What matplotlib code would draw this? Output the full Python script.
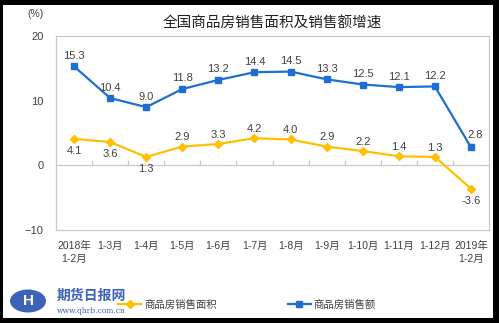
import matplotlib
matplotlib.use("Agg")
import matplotlib.pyplot as plt
from matplotlib.patches import Rectangle, Ellipse

plt.rcParams["font.family"] = ["Liberation Sans", "Noto Sans CJK SC", "DejaVu Sans"]

# data
months = ["2018年\n1-2月", "1-3月", "1-4月", "1-5月", "1-6月", "1-7月", "1-8月",
          "1-9月", "1-10月", "1-11月", "1-12月", "2019年\n1-2月"]
area = [4.1, 3.6, 1.3, 2.9, 3.3, 4.2, 4.0, 2.9, 2.2, 1.4, 1.3, -3.6]
sales = [15.3, 10.4, 9.0, 11.8, 13.2, 14.4, 14.5, 13.3, 12.5, 12.1, 12.2, 2.8]
# which yellow labels sit under the point
area_below = [True, True, True, False, False, False, False, False, False, False, False, True]

blue = "#1F6FD1"
yellow = "#FFC000"
grid_c = "#C8C8C8"
txt_c = "#404040"

W, H = 499, 323
fig = plt.figure(figsize=(W / 100, H / 100), dpi=100, facecolor="black")
# white page inside the black frame of the screenshot
fig.add_artist(Rectangle((3 / W, 5 / H), (493 - 3) / W, (318 - 5) / H,
                         transform=fig.transFigure, facecolor="white", edgecolor="none", zorder=0))

ax = fig.add_axes([56 / W, 1 - 230 / H, (489 - 56) / W, (230 - 36) / H])
x = list(range(len(months)))

ax.plot(x, sales, color=blue, lw=1.6, marker="s", ms=4.2, label="商品房销售额", zorder=3)
ax.plot(x, area, color=yellow, lw=1.6, marker="D", ms=3.8, label="商品房销售面积", zorder=3)

for i, v in enumerate(sales):
    if i == len(sales) - 1:
        ax.annotate(f"{v:.1f}", (i, v), xytext=(3, 5), textcoords="offset points",
                    ha="center", va="bottom", fontsize=8, color=txt_c)
    else:
        ax.annotate(f"{v:.1f}", (i, v), xytext=(0, 4), textcoords="offset points",
                    ha="center", va="bottom", fontsize=8, color=txt_c)
for i, v in enumerate(area):
    if area_below[i]:
        ax.annotate(f"{v:.1f}", (i, v), xytext=(0, -5), textcoords="offset points",
                    ha="center", va="top", fontsize=8, color=txt_c)
    else:
        ax.annotate(f"{v:.1f}", (i, v), xytext=(0, 3), textcoords="offset points",
                    ha="center", va="bottom", fontsize=8, color=txt_c)

ax.set_xlim(-0.5, len(months) - 0.5)
ax.set_ylim(-10, 20)
ax.set_yticks([-10, 0, 10, 20])
ax.set_xticks(x)
ax.set_xticklabels(months, fontsize=7.5, color=txt_c, linespacing=1.3)
ax.tick_params(axis="both", length=0)
ax.tick_params(axis="x", pad=8)
ax.tick_params(axis="y", pad=9, labelsize=8, labelcolor=txt_c)

# zero line with small category ticks
ax.axhline(0, color=grid_c, lw=0.9, zorder=1)
bounds = [i + 0.5 for i in range(len(months) - 1)]
ax.vlines(bounds, 0, 0.8, color=grid_c, lw=0.9, zorder=1)

for s in ax.spines.values():
    s.set_color(grid_c)
    s.set_linewidth(0.9)

fig.text(35 / W, 1 - 14 / H, "(%)", ha="center", va="center", fontsize=7.5, color=txt_c)
fig.text(272 / W, 1 - 24 / H, "全国商品房销售面积及销售额增速", ha="center", va="center",
         fontsize=10.5, color="#202020")

handles, labels = ax.get_legend_handles_labels()
fig.legend(handles[::-1], labels[::-1], loc="center", bbox_to_anchor=(247 / W, 1 - 305 / H),
           ncol=2, frameon=False, fontsize=7.5, handlelength=2.2, handletextpad=0.3,
           columnspacing=6.8, labelcolor=txt_c)

# watermark logo
fig.add_artist(Ellipse((28 / W, 1 - 301 / H), 36 / W, 23 / H, transform=fig.transFigure,
                       facecolor="#3B63B8", edgecolor="none"))
fig.text(28 / W, 1 - 301 / H, "H", ha="center", va="center", fontsize=11,
         fontweight="bold", color="white")
fig.text(91 / W, 1 - 296 / H, "期货日报网", ha="center", va="center", fontsize=10,
         fontweight="bold", style="italic", color="#3B63B8")
fig.text(91 / W, 1 - 311 / H, "www.qhrb.com.cn", ha="center", va="center", fontsize=5.5,
         family="DejaVu Serif", color="#3B63B8")

fig.savefig("out.png", dpi=100, facecolor=fig.get_facecolor())
